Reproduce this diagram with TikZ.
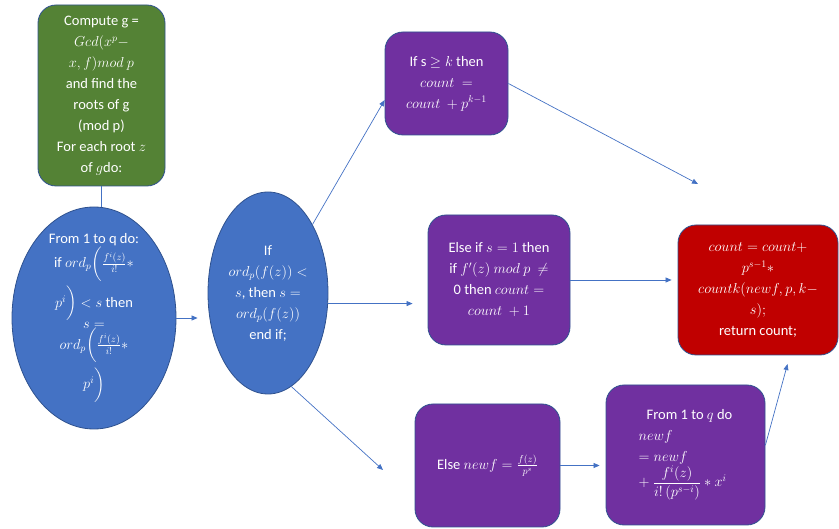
\documentclass[tikz,border=0pt]{standalone}
\usepackage{amsmath}
\usepackage{fontspec}
\setmainfont{Carlito}
\usepackage{tikz}
\usetikzlibrary{shapes.geometric}
\usetikzlibrary{arrows.meta}

\definecolor{verde}{HTML}{548235}
\definecolor{azul}{HTML}{4472C4}
\definecolor{borde}{HTML}{2F528F}
\definecolor{morado}{HTML}{7030A0}
\definecolor{rojo}{HTML}{C00000}

\begin{document}
\begin{tikzpicture}[x=1pt, y=-1pt,
  every node/.style={text=white, align=center, font=\fontsize{14.5}{21}\selectfont},
  caja/.style={draw=borde, line width=0.8pt, rounded corners=18pt, inner sep=0pt},
  elipse/.style={draw=borde, line width=0.8pt, ellipse, fill=azul, inner sep=-40pt},
  flecha/.style={-{Triangle[length=6pt,width=5pt]}, draw=azul, line width=0.7pt}]
              \useasboundingbox (0,0) rectangle (839,529);
              % Nodos
              \node[caja, fill=verde, minimum width=127pt, minimum height=181pt] (gcd) at (101.5,95.5)
                {Compute g =\\ $Gcd(x^p -$\\ $x, f)mod\ p$\\ and find the\\ roots of g\\ (mod p)\\ For each root $z$\\ of $g$do:};
              \node[elipse, minimum width=164pt, minimum height=222pt] (raices) at (94,318)
                {From 1 to q do:\\ if $ord_p\bigg(\frac{f^i(z)}{i!}*$\\[4pt] $p^i\bigg) < s$ then\\ $s =$\\ $ord_p\bigg(\frac{f^i(z)}{i!}*$\\[4pt] $p^i\bigg)$};
              \node[elipse, minimum width=120pt, minimum height=202pt] (orden) at (268,293)
                {If\\ $ord_p(f(z)) <$\\ $s$, then $s =$\\ $ord_p(f(z))$\\ end if;};
              \node[caja, fill=morado, minimum width=123pt, minimum height=103pt] (sik) at (446.5,83.5)
                {If s $\geq k$ then\\ $count\ =$\\ $count\ + p^{k-1}$};
              \node[caja, fill=morado, minimum width=142pt, minimum height=130pt] (siuno) at (499,280)
                {Else if $s = 1$ then\\ if $f'(z)\ mod\ p\ \neq$\\ 0 then $count =$\\ $count\ + 1$};
              \node[caja, fill=morado, minimum width=145pt, minimum height=123pt] (nueva) at (487.5,465.5)
                {Else $newf = \frac{f(z)}{p^s}$};
              \node[caja, fill=morado, minimum width=159pt, minimum height=140pt, align=left] (bucle) at (685.5,455)
                {\hspace*{8pt}From 1 to $q$ do\\ $newf$\\ $= newf$\\ $+\ \dfrac{f^i(z)}{i!\,(p^{s-i})} * x^i$};
              \node[caja, fill=rojo, minimum width=160pt, minimum height=130pt] (cuenta) at (758,290)
                {$count = count +$\\ $p^{s-1} *$\\ $countk(newf, p, k -$\\ $s);$\\ return count;};
              \coordinate (fin1) at (698,184);
              \coordinate (fin2) at (383,470);

              % Flechas
              \draw[draw=azul, line width=0.7pt] (gcd.south) -- (gcd.south |- raices.north);
              \draw[flecha, shorten >=10pt] (raices.east) -- (raices.east -| orden.west);
              \draw[flecha] (orden.57) -- (sik.195);
              \draw[flecha] (sik.east) -- (fin1);
              \draw[flecha, shorten >=15pt] (orden.-10) -- (orden.-10 -| siuno.west);
              \draw[flecha] (orden.-76) -- (fin2);
              \draw[flecha, shorten >=6pt] (siuno.east) -- (siuno.east -| cuenta.west);
              \draw[flecha, shorten >=6pt] (nueva.east) -- (nueva.east -| bucle.west);
              \draw[flecha, shorten >=9pt] (bucle.7) -- (cuenta.-64);
\end{tikzpicture}
\end{document}
